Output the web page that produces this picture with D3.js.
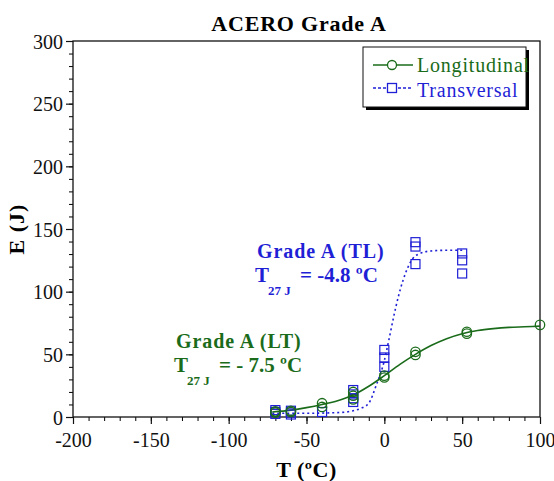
<!DOCTYPE html>
<html lang="en">
<head>
<meta charset="UTF-8">
<title>ACERO Grade A</title>
<script src="https://d3js.org/d3.v7.min.js"></script>
<style>
  body { margin: 0; background: #fff; }
</style>
</head>
<body>
<svg width="554" height="481"></svg>
<script>
// ---- data ----
const xTicks = [-200, -150, -100, -50, 0, 50, 100];
const yTicks = [0, 50, 100, 150, 200, 250, 300];

// Longitudinal (circles)
const longT = [-70, -70, -60, -60, -40, -40, -20, -20, -20, 0, 0, 20, 20, 53, 53, 100];
const longE = [3.5, 4.5, 4, 5, 8, 11, 14, 17, 20, 31.5, 33, 49.5, 52, 66.5, 68, 73.5];
// fitted curve, longitudinal
const longFitT = [-72, -60, -50, -40, -30, -20, -10, 0, 10, 20, 30, 40, 50, 60, 70, 80, 90, 100];
const longFitE = [4, 5.5, 7.5, 10, 13, 17.5, 24.5, 33, 42, 50, 57, 62.5, 66.5, 69, 70.5, 71.5, 72, 72.5];

// Transversal (squares)
const tranT = [-70, -70, -70, -60, -60, -60, -40, -20, -20, -20, -20, 0, 0, 0, 20, 20, 20, 50, 50, 50];
const tranE = [2.5, 4, 5.5, 2, 3.5, 5, 4, 12, 15, 18, 21.5, 40, 47.5, 53.5, 122, 136, 139.5, 114.5, 125, 130.5];
// fitted curve, transversal
const tranFitT = [-72, -50, -30, -20, -15, -10, -5, 0, 3, 6, 9, 12, 15, 18, 22, 30, 40, 50];
const tranFitE = [3, 3, 3.5, 5, 7, 11, 26, 45, 62, 80, 96, 109, 119, 126, 130, 132.5, 133, 133];

const green = "#1a6b1a";
const blue = "#1f1fd6";

// ---- layout ----
const svg = d3.select("svg");
const margin = { left: 73, top: 41, right: 14, bottom: 64 };
const W = 554 - margin.left - margin.right;
const H = 481 - margin.top - margin.bottom;

const x = d3.scaleLinear().domain([-200, 100]).range([0, W]);
const y = d3.scaleLinear().domain([0, 300]).range([H, 0]);

const g = svg.append("g").attr("transform", `translate(${margin.left},${margin.top})`);

// minor ticks
g.append("g")
  .attr("transform", `translate(0,${H})`)
  .call(d3.axisBottom(x).tickValues(d3.range(-200, 101, 10)).tickSize(4).tickFormat(""))
  .call(a => a.select(".domain").remove());
g.append("g")
  .call(d3.axisLeft(y).tickValues(d3.range(0, 301, 10)).tickSize(4).tickFormat(""))
  .call(a => a.select(".domain").remove());

// major ticks
const xAxis = g.append("g")
  .attr("transform", `translate(0,${H})`)
  .call(d3.axisBottom(x).tickValues(xTicks).tickSize(7).tickSizeOuter(0).tickPadding(9).tickFormat(d => String(d)));
const yAxis = g.append("g")
  .call(d3.axisLeft(y).tickValues(yTicks).tickSize(7).tickSizeOuter(0).tickPadding(3).tickFormat(d => String(d)));

[xAxis, yAxis].forEach(a => {
  a.attr("font-size", 20);
  a.selectAll("text").attr("fill", "#111");
  a.selectAll("line").attr("stroke", "#111").attr("stroke-width", 1.2);
  a.select(".domain").remove();
});
yAxis.selectAll("text").attr("dy", "0.35em");

// frame
g.append("rect")
  .attr("width", W).attr("height", H)
  .attr("fill", "none").attr("stroke", "#111").attr("stroke-width", 1.3);

// fitted curves
const line = d3.line().x(d => x(d[0])).y(d => y(d[1])).curve(d3.curveMonotoneX);

g.append("path")
  .datum(d3.zip(tranFitT, tranFitE))
  .attr("d", line)
  .attr("fill", "none").attr("stroke", blue)
  .attr("stroke-width", 1.6).attr("stroke-dasharray", "2,3");

g.append("path")
  .datum(d3.zip(longFitT, longFitE))
  .attr("d", line)
  .attr("fill", "none").attr("stroke", green).attr("stroke-width", 1.6);

// markers
g.append("g").selectAll("rect")
  .data(d3.zip(tranT, tranE))
  .join("rect")
  .attr("x", d => x(d[0]) - 4.5).attr("y", d => y(d[1]) - 4.5)
  .attr("width", 9).attr("height", 9)
  .attr("fill", "none").attr("stroke", blue).attr("stroke-width", 1.2);

g.append("g").selectAll("circle")
  .data(d3.zip(longT, longE))
  .join("circle")
  .attr("cx", d => x(d[0])).attr("cy", d => y(d[1]))
  .attr("r", 4.7)
  .attr("fill", "none").attr("stroke", green).attr("stroke-width", 1.3);

// title + axis labels
svg.append("text")
  .attr("x", 299).attr("y", 31)
  .attr("text-anchor", "middle")
  .attr("font-size", 22).attr("font-weight", "bold").attr("letter-spacing", 0.8)
  .text("ACERO Grade A");

svg.append("text")
  .attr("x", margin.left + W / 2).attr("y", 477)
  .attr("text-anchor", "middle")
  .attr("font-size", 22).attr("font-weight", "bold").attr("letter-spacing", 0.5)
  .text("T (ºC)");

svg.append("text")
  .attr("transform", `translate(24,${margin.top + H / 2}) rotate(-90)`)
  .attr("text-anchor", "middle")
  .attr("font-size", 22).attr("font-weight", "bold").attr("letter-spacing", 1)
  .text("E (J)");

// annotations
function note(color, x0, y0, label, value, eqX) {
  const a = svg.append("g").attr("fill", color).attr("font-weight", "bold");
  a.append("text").attr("x", x0 + 2).attr("y", y0).attr("font-size", 20).attr("letter-spacing", 0.9).text(label);
  a.append("text").attr("x", x0).attr("y", y0 + 24).attr("font-size", 21).text("T");
  a.append("text").attr("x", x0 + 13).attr("y", y0 + 37).attr("font-size", 13).text("27 J");
  a.append("text").attr("x", eqX).attr("y", y0 + 24).attr("font-size", 21).text(value);
}
note(blue, 255, 258, "Grade A (TL)", "= -4.8 ºC", 300);
note(green, 174, 348, "Grade A (LT)", "= - 7.5 ºC", 219);

// legend
const lg = svg.append("g").attr("transform", "translate(363,47)");
lg.append("rect").attr("x", 3).attr("y", 3).attr("width", 163).attr("height", 60).attr("fill", "#000");
lg.append("rect").attr("width", 163).attr("height", 60).attr("fill", "#fff")
  .attr("stroke", "#111").attr("stroke-width", 1);

const legendItems = [
  { name: "Longitudinal", color: green, dash: null, shape: "circle", ly: 18, ty: 25 },
  { name: "Transversal", color: blue, dash: "3,2", shape: "square", ly: 41, ty: 50 }
];
legendItems.forEach(it => {
  lg.append("line").attr("x1", 10).attr("x2", 50).attr("y1", it.ly).attr("y2", it.ly)
    .attr("stroke", it.color).attr("stroke-width", 1.4).attr("stroke-dasharray", it.dash);
  if (it.shape === "circle") {
    lg.append("circle").attr("cx", 29).attr("cy", it.ly).attr("r", 4.5)
      .attr("fill", "#fff").attr("stroke", it.color).attr("stroke-width", 1.3);
  } else {
    lg.append("rect").attr("x", 24.5).attr("y", it.ly - 4.5).attr("width", 9).attr("height", 9)
      .attr("fill", "#fff").attr("stroke", it.color).attr("stroke-width", 1.3);
  }
  lg.append("text").attr("x", 54).attr("y", it.ty).attr("fill", it.color)
    .attr("font-size", 20).attr("letter-spacing", 0.8).text(it.name);
});

// serif face everywhere
svg.selectAll("text").style("font-family", '"Liberation Serif"');
</script>
</body>
</html>
